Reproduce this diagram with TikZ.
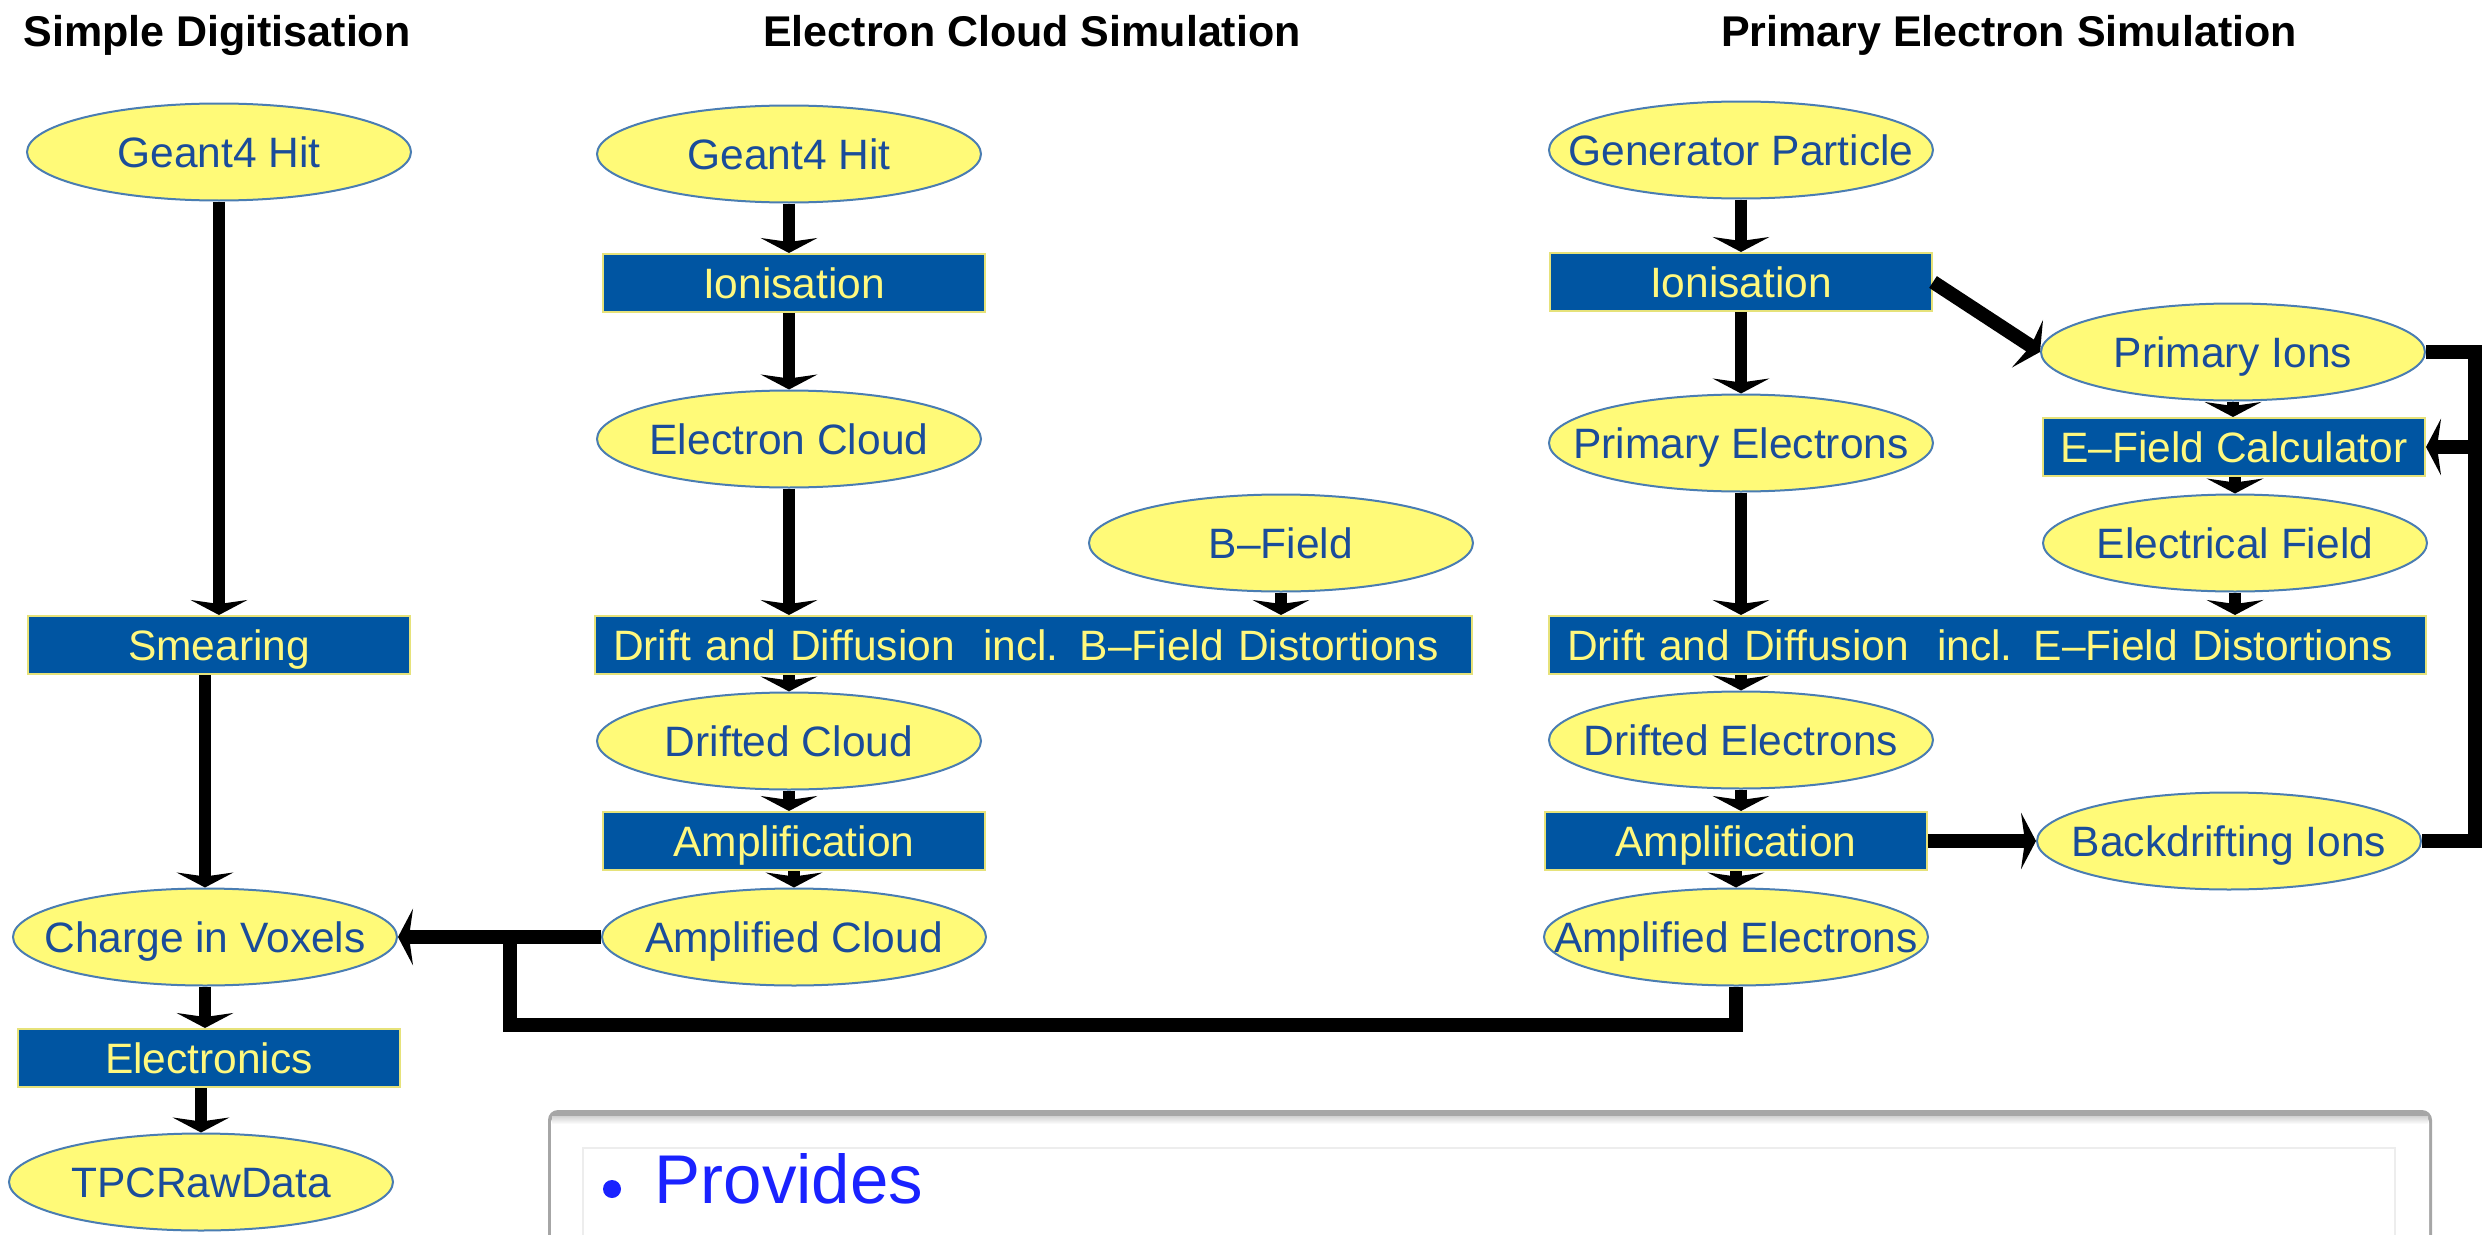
\documentclass[tikz,border=0pt]{standalone}
\usepackage{fontspec}
\setmainfont{Liberation Sans}
\usetikzlibrary{arrows.meta,shapes.geometric,calc}
\definecolor{ellfill}{HTML}{FFFA78}
\definecolor{elldraw}{HTML}{4A7DB2}
\definecolor{elltext}{HTML}{1A4C9A}
\definecolor{boxfill}{HTML}{0055A2}
\definecolor{boxdraw}{HTML}{E6E27A}
\definecolor{boxtext}{HTML}{FFF87E}
\definecolor{provblue}{HTML}{1A22FF}
\newcommand{\nodefont}{\fontsize{12.75pt}{15pt}\selectfont}
\newcommand{\titlefont}{\fontsize{12.9pt}{15pt}\selectfont\bfseries}
\begin{document}
\begin{tikzpicture}[x=0.3pt,y=-0.3pt,
  ell/.style={ellipse, draw=elldraw, line width=0.6pt, fill=ellfill,
    minimum width=115.2pt, minimum height=29.1pt, inner sep=0pt},
  elltxt/.style={text=elltext, font=\nodefont, inner sep=0pt,
    text height=9.2pt, text depth=0pt},
  box/.style={rectangle, draw=boxdraw, line width=0.6pt, fill=boxfill,
    minimum width=114.6pt, minimum height=17.4pt, inner sep=0pt,
    text=boxtext, font=\nodefont, text height=9.2pt, text depth=0pt},
  widebox/.style={box, text width=252.3pt, inner xsep=5.4pt, align=left},
  title/.style={font=\titlefont, inner sep=0pt, anchor=base},
  arr/.style={line width=3.6pt, -{Stealth[length=4.5pt,width=17pt,inset=1.2pt]}},
  arrh/.style={line width=4.2pt, -{Stealth[length=4.5pt,width=17pt,inset=1.2pt]}},
  conn/.style={line width=4.2pt, line join=miter}
]
\useasboundingbox (0,0) rectangle (2490,1235);

% bottom panel
\fill[black!35, rounded corners=3pt] (548,1110) rectangle (2432,1250);
\fill[white, rounded corners=2pt] (551,1116) rectangle (2429,1250);
\shade[top color=black!18, bottom color=white] (552,1116) rectangle (2428,1124);
\draw[black!7, line width=0.6pt] (583,1148) rectangle (2395,1250);
\fill[provblue] (612,1189) circle (2.7pt);
\node[anchor=base west, inner sep=0pt, text=provblue,
  font=\fontsize{20.7pt}{24pt}\selectfont] (prov) at (654,1203) {Provides};

% titles
\node[title] (t1) at (217,46) {Simple Digitisation};
\node[title] (t2) at (1032,46) {Electron Cloud Simulation};
\node[title] (t3) at (2009,46) {Primary Electron Simulation};

% column 1
\node[ell, label={[elltxt]center:Geant4 Hit}] (g4a) at (219,152) {};
\node[box] (sm) at (219,645) {Smearing};
\node[ell, label={[elltxt]center:Charge in Voxels}] (cv) at (205,937) {};
\node[box] (el) at (209,1058) {Electronics};
\node[ell, label={[elltxt]center:TPCRawData}] (tpc) at (201,1182) {};

% column 2
\node[ell, label={[elltxt]center:Geant4 Hit}] (g4b) at (789,154) {};
\node[box] (ion2) at (794,283) {Ionisation};
\node[ell, label={[elltxt]center:Electron Cloud}] (ecl) at (789,439) {};
\node[ell, label={[elltxt]center:B–Field}] (bf) at (1281,543) {};
\node[widebox] (drb) at (1033.5,645) {Drift and Diffusion\ \ incl. B–Field Distortions};
\node[ell, label={[elltxt]center:Drifted Cloud}] (dcl) at (789,741) {};
\node[box] (amp2) at (794,841) {Amplification};
\node[ell, label={[elltxt]center:Amplified Cloud}] (acl) at (794,937) {};

% column 3
\node[ell, label={[elltxt]center:Generator Particle}] (gp) at (1741,150) {};
\node[box] (ion3) at (1741,282) {Ionisation};
\node[ell, label={[elltxt]center:Primary Electrons}] (pel) at (1741,443) {};
\node[widebox] (dre) at (1987.5,645) {Drift and Diffusion\ \ incl. E–Field Distortions};
\node[ell, label={[elltxt]center:Drifted Electrons}] (del) at (1741,740) {};
\node[box] (amp3) at (1736,841) {Amplification};
\node[ell, label={[elltxt]center:Amplified Electrons}] (ael) at (1736,937) {};

% column 4
\node[ell, label={[elltxt]center:Primary Ions}] (pio) at (2233,352) {};
\node[box] (efc) at (2234,447) {E–Field Calculator};
\node[ell, label={[elltxt]center:Electrical Field}] (efl) at (2235,543) {};
\node[ell, label={[elltxt]center:Backdrifting Ions}] (bdi) at (2229,841) {};

\coordinate (fbx) at (2475,352);
\coordinate (j) at (510,937);
\coordinate (r) at (510,1025);

% connectors column 1
\draw[arr] (g4a.south) -- (g4a.south |- sm.north);
\draw[arr] (cv.north |- sm.south) -- (cv.north);
\draw[arr] (cv.south) -- (cv.south |- el.north);
\draw[arr] (tpc.north |- el.south) -- (tpc.north);

% connectors column 2
\draw[arr] (g4b.south) -- (g4b.south |- ion2.north);
\draw[arr] (ecl.north |- ion2.south) -- (ecl.north);
\draw[arr] (ecl.south) -- (ecl.south |- drb.north);
\draw[arr] (bf.south) -- (bf.south |- drb.north);
\draw[arr] (dcl.north |- drb.south) -- (dcl.north);
\draw[arr] (dcl.south) -- (dcl.south |- amp2.north);
\draw[arr] (acl.north |- amp2.south) -- (acl.north);
\draw[arrh] (acl.west) -- (cv.east);
\draw[conn] (ael.south) |- (r) -- (j);

% connectors column 3/4
\draw[arr] (gp.south) -- (gp.south |- ion3.north);
\draw[arr] (ion3.south) -- (ion3.south |- pel.north);
\draw[arr] (pel.south) -- (pel.south |- dre.north);
\draw[arr] (del.north |- dre.south) -- (del.north);
\draw[arr] (del.south) -- (del.south |- amp3.north);
\draw[arr] (ael.north |- amp3.south) -- (ael.north);
\draw[arrh] (ion3.east) -- (pio.west);
\draw[arrh] (amp3.east) -- (bdi.west);
\draw[arr] (pio.south) -- (pio.south |- efc.north);
\draw[arr] (efl.north |- efc.south) -- (efl.north);
\draw[arr] (efl.south) -- (efl.south |- dre.north);
\draw[conn] (pio.east) -- (pio.east -| fbx) |- (bdi.east);
\draw[arrh] (fbx |- efc.east) -- (efc.east);
\end{tikzpicture}
\end{document}
